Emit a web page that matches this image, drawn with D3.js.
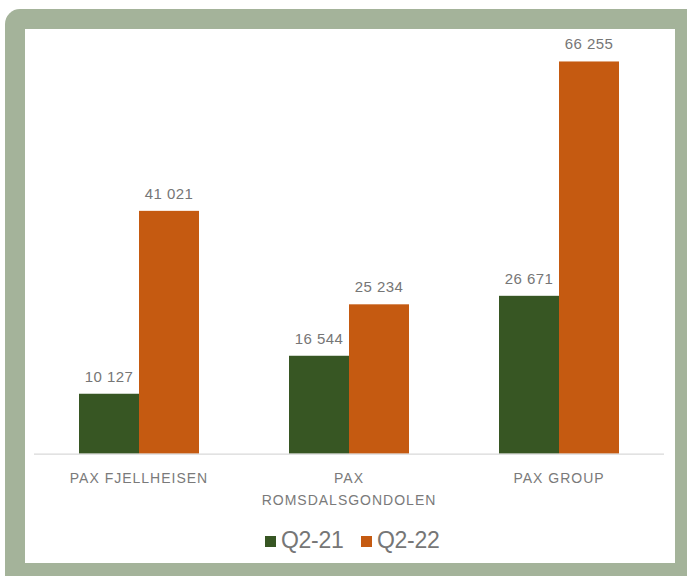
<!DOCTYPE html>
<meta charset="utf-8">
<style>
    body { margin: 0; background: #fff; }
    .value { font: 15px "Liberation Sans", Arial, sans-serif; fill: #767676; text-anchor: middle; letter-spacing: 0.4px; }
    .cat { font: 14px "Liberation Sans", Arial, sans-serif; fill: #7a7a7a; text-anchor: middle; letter-spacing: 1px; }
    .legend { font: 23px "Liberation Sans", Arial, sans-serif; fill: #767676; letter-spacing: -0.3px; }
</style>
<svg width="687" height="576"></svg>
<script src="https://d3js.org/d3.v7.min.js"></script>
<script>

    var categories = [["PAX FJELLHEISEN"], ["PAX", "ROMSDALSGONDOLEN"], ["PAX GROUP"]];
    var seriesNames = ["Q2-21", "Q2-22"];
    var q2_21 = [10127, 16544, 26671];
    var q2_22 = [41021, 25234, 66255];
    var colors = ["#375623", "#c55a11"];

    var svg = d3.select("svg");

    // frame
    svg.append("rect")
        .attr("x", 5).attr("y", 9)
        .attr("width", 720).attr("height", 600)
        .attr("rx", 15)
        .attr("fill", "#a4b39a");
    svg.append("rect")
        .attr("x", 25).attr("y", 29)
        .attr("width", 650).attr("height", 534)
        .attr("fill", "#fff");

    var plot = {left: 34, right: 664, top: 39.3, bottom: 453.7};

    var x0 = d3.scaleBand()
        .domain(d3.range(categories.length))
        .range([plot.left, plot.right])
        .paddingInner(0.4286)
        .paddingOuter(0.2143);

    var x1 = d3.scaleBand()
        .domain(d3.range(seriesNames.length))
        .range([0, x0.bandwidth()]);

    var y = d3.scaleLinear()
        .domain([0, 70000])
        .range([plot.bottom, plot.top]);

    var series = [q2_21, q2_22];
    var data = [];
    categories.forEach(function (c, i) {
        series.forEach(function (s, j) {
            data.push({cat: i, ser: j, value: s[i]});
        });
    });

    var fmt = function (v) {
        return d3.format(",")(v).replace(/,/g, " ");
    };

    var g = svg.append("g");

    g.selectAll("rect.bar").data(data).enter().append("rect")
        .attr("class", "bar")
        .attr("x", function (d) { return x0(d.cat) + x1(d.ser); })
        .attr("width", x1.bandwidth())
        .attr("y", function (d) { return y(d.value); })
        .attr("height", function (d) { return y(0) - y(d.value); })
        .attr("fill", function (d) { return colors[d.ser]; });

    g.selectAll("text.value").data(data).enter().append("text")
        .attr("class", "value")
        .attr("x", function (d) { return x0(d.cat) + x1(d.ser) + x1.bandwidth() / 2; })
        .attr("y", function (d) { return y(d.value) - 12; })
        .text(function (d) { return fmt(d.value); });

    // axis line
    g.append("line")
        .attr("x1", plot.left).attr("x2", plot.right)
        .attr("y1", y(0) + 0.5).attr("y2", y(0) + 0.5)
        .attr("stroke", "#d9d9d9")
        .attr("stroke-width", 1.2);

    // category labels
    var cat = g.selectAll("text.cat").data(categories).enter().append("text")
        .attr("class", "cat")
        .attr("x", function (d, i) { return x0(i) + x0.bandwidth() / 2; })
        .attr("y", 483);
    cat.selectAll("tspan").data(function (d) { return d; }).enter().append("tspan")
        .attr("x", function () { return d3.select(this.parentNode).attr("x"); })
        .attr("dy", function (d, i) { return i ? 22 : 0; })
        .text(function (d) { return d; });

    // legend
    var legendX = [265, 361];
    var leg = g.selectAll("g.leg").data(seriesNames).enter().append("g")
        .attr("class", "leg")
        .attr("transform", function (d, i) { return "translate(" + legendX[i] + ",536)"; });
    leg.append("rect")
        .attr("width", 11).attr("height", 11)
        .attr("fill", function (d, i) { return colors[i]; });
    leg.append("text")
        .attr("class", "legend")
        .attr("x", 16).attr("y", 12)
        .text(function (d) { return d; });

</script>
